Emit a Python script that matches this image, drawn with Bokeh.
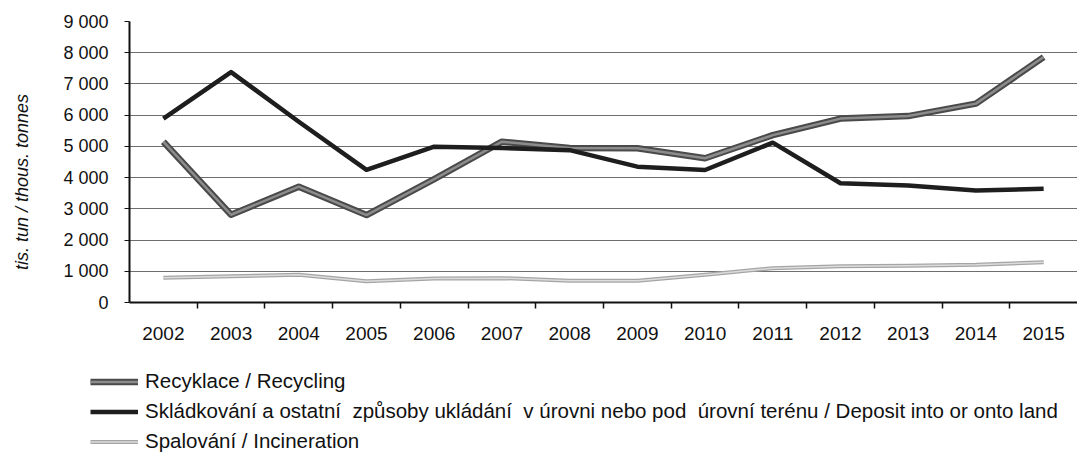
from bokeh.plotting import figure
from bokeh.models import (Range1d, FixedTicker, Legend, LegendItem)
from bokeh.embed import file_html
from bokeh.resources import INLINE

# Waste treatment in thousand tonnes, 2002-2015
years = [2002, 2003, 2004, 2005, 2006, 2007, 2008,
         2009, 2010, 2011, 2012, 2013, 2014, 2015]
recycling = [5150, 2810, 3710, 2800, 3950, 5150, 4950,
             4940, 4620, 5360, 5890, 5970, 6370, 7860]
deposit = [5890, 7380, 5790, 4250, 4990, 4950, 4880,
           4350, 4245, 5120, 3820, 3745, 3585, 3640]
incineration = [790, 840, 890, 680, 765, 780, 700,
                700, 890, 1100, 1160, 1180, 1210, 1290]
y_ticks = [0, 1000, 2000, 3000, 4000, 5000, 6000, 7000, 8000, 9000]

label_recycling = "Recyklace / Recycling"
label_deposit = ("Skládkování a ostatní  způsoby ukládání  v úrovni nebo pod  "
                 "úrovní terénu / Deposit into or onto land")
label_incineration = "Spalování / Incineration"
y_title = "tis. tun / thous. tonnes"

FONT = "Liberation Sans"
W = 1077
CHART_H = 345
LEGEND_H = 452 - CHART_H

# line styles shared by the chart and the legend
styles = {
    "rec_outer": dict(line_width=6.5, line_color="#4a4a4a"),
    "rec_inner": dict(line_width=2.5, line_color="#8c8c8c"),
    "dep": dict(line_width=4.5, line_color="#1e1e1e"),
    "inc_outer": dict(line_width=4, line_color="#a5a5a5"),
    "inc_inner": dict(line_width=1.5, line_color="#dcdcdc"),
}

p = figure(width=W, height=CHART_H, output_backend="svg", toolbar_location=None,
           x_range=Range1d(years[0] - 0.5, years[-1] + 0.5),
           y_range=Range1d(0, 9000),
           min_border_left=129, min_border_right=0,
           min_border_top=21, min_border_bottom=CHART_H - 302)
p.outline_line_color = None
p.background_fill_color = "white"
p.border_fill_color = "white"

# grid
p.xgrid.grid_line_color = None
p.ygrid.grid_line_color = "#6e6e6e"
p.ygrid.grid_line_width = 1.2

# y axis
p.yaxis.ticker = FixedTicker(ticks=y_ticks)
p.yaxis.major_label_overrides = {v: f"{v:,}".replace(",", " ") for v in y_ticks}
p.yaxis.minor_tick_line_color = None
p.yaxis.major_tick_out = 5
p.yaxis.major_tick_in = 0
p.yaxis.major_label_standoff = 16
p.yaxis.axis_line_width = 2
p.yaxis.axis_line_color = "#111111"
p.yaxis.major_tick_line_color = "#111111"
p.yaxis.major_label_text_font = FONT
p.yaxis.major_label_text_font_size = "18px"
p.yaxis.major_label_text_color = "#111111"
# trailing no-break spaces push the rotated title a little down the axis
p.yaxis.axis_label = y_title + "\u00a0" * 8
p.yaxis.axis_label_text_font = FONT
p.yaxis.axis_label_text_font_style = "italic"
p.yaxis.axis_label_text_font_size = "18px"
p.yaxis.axis_label_text_color = "#111111"
p.yaxis.axis_label_standoff = 28

# x axis: labels centred on the years, ticks between years
boundaries = [y + 0.5 for y in years[:-1]]
p.xaxis.ticker = FixedTicker(ticks=years, minor_ticks=boundaries)
p.xaxis.major_tick_out = 0
p.xaxis.major_tick_in = 0
p.xaxis.minor_tick_out = 6
p.xaxis.minor_tick_in = 0
p.xaxis.minor_tick_line_color = "#111111"
p.xaxis.minor_tick_line_width = 1.5
p.xaxis.axis_line_width = 2
p.xaxis.axis_line_color = "#111111"
p.xaxis.major_label_standoff = 18
p.xaxis.major_label_text_font = FONT
p.xaxis.major_label_text_font_size = "19px"
p.xaxis.major_label_text_color = "#111111"

# series
p.line(years, recycling, line_join="round", **styles["rec_outer"])
p.line(years, recycling, line_join="round", **styles["rec_inner"])
p.line(years, deposit, line_join="round", **styles["dep"])
p.line(years, incineration, line_join="round", **styles["inc_outer"])
p.line(years, incineration, line_join="round", **styles["inc_inner"])

# legend strip underneath the chart (its own root, full-width frame)
lg = figure(width=W, height=LEGEND_H, output_backend="svg", toolbar_location=None,
            x_range=Range1d(0, 1), y_range=Range1d(0, 1),
            min_border=0, min_border_left=0, min_border_right=0,
            min_border_top=0, min_border_bottom=0,
            x_axis_type=None, y_axis_type=None)
lg.outline_line_color = None
lg.grid.visible = False
lg.background_fill_color = "white"
lg.border_fill_color = "white"

# key renderers: same styles, kept outside the visible range
off = [-5, -4]
k_rec_o = lg.line(off, off, **styles["rec_outer"])
k_rec_i = lg.line(off, off, **styles["rec_inner"])
k_dep = lg.line(off, off, **styles["dep"])
k_inc_o = lg.line(off, off, **styles["inc_outer"])
k_inc_i = lg.line(off, off, **styles["inc_inner"])

legend = Legend(items=[
    LegendItem(label=label_recycling, renderers=[k_rec_o, k_rec_i]),
    LegendItem(label=label_deposit, renderers=[k_dep]),
    LegendItem(label=label_incineration, renderers=[k_inc_o, k_inc_i]),
], location=(90, -1))
legend.background_fill_alpha = 0
legend.border_line_color = None
legend.padding = 0
legend.margin = 0
legend.spacing = 6
legend.glyph_width = 48
legend.glyph_height = 23
legend.label_height = 23
legend.label_standoff = 7
legend.label_text_font = FONT
legend.label_text_font_size = "20.5px"
legend.label_text_color = "#111111"
legend.label_text_baseline = "middle"
lg.add_layout(legend, "center")

open("out.html", "w").write(file_html([p, lg], INLINE))
